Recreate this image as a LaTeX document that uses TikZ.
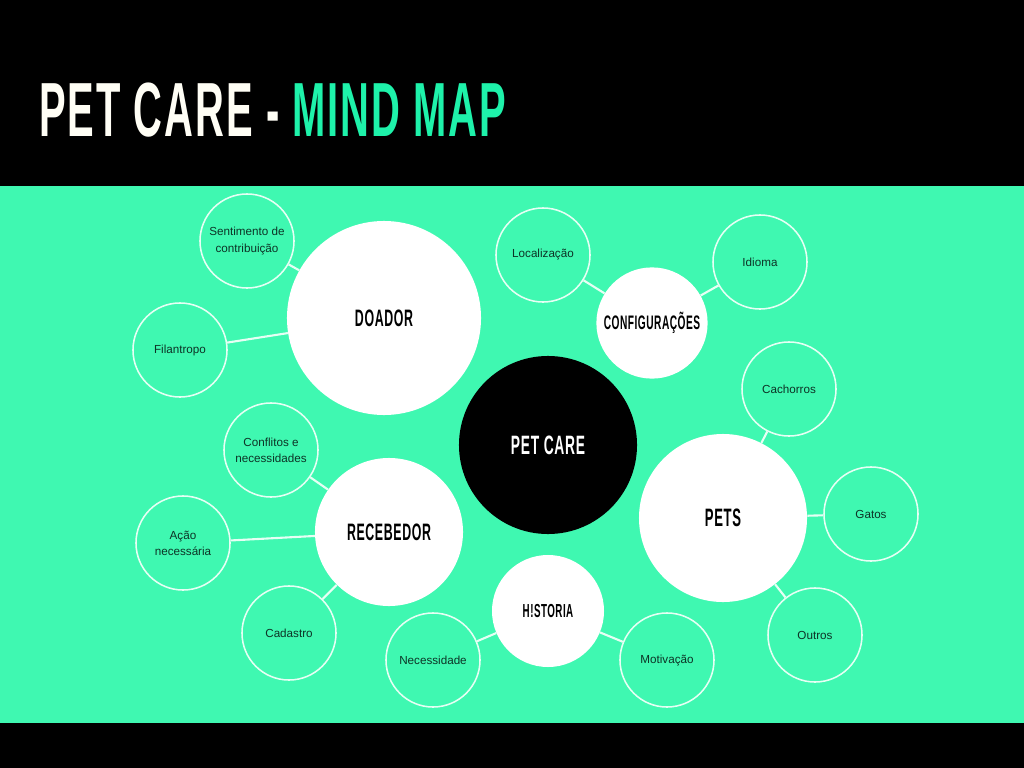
\documentclass[tikz,border=0pt]{standalone}
\usepackage{fontspec}
\usepackage{graphicx}
\setmainfont{Liberation Sans}
\newfontfamily\bebasfont{Liberation Sans}[LetterSpace=5]
\definecolor{mapgreen}{HTML}{3FF8B1}
\definecolor{titlegreen}{HTML}{1EF2AA}
\definecolor{ringwhite}{HTML}{E6FFF4}
\definecolor{leaftext}{HTML}{0D3326}
\newcommand\bebas[1]{\scalebox{0.52}[1]{#1}}
\newcommand\doadord{4.85cm}
\newcommand\leafd{2.35cm}

\begin{document}
\begin{tikzpicture}[x=0.025cm,y=-0.025cm,
		bigbub/.style={circle,fill=white,inner sep=0,text=black},
		leaf/.style={circle,draw=ringwhite,line width=1.1pt,inner sep=0,minimum size=\leafd,align=center,text=leaftext,font=\fontsize{8.3}{11.4}\selectfont},
		link/.style={draw=ringwhite,line width=1.5pt}]
		\useasboundingbox (0,0) rectangle (1024,768);
		\fill[black] (0,0) rectangle (1024,768);
		\fill[mapgreen] (0,186) rectangle (1024,723);
		\node(title)[anchor=base west,inner sep=0,text=white!96!yellow,font=\bebasfont\bfseries\fontsize{54.6}{54.6}\selectfont] at (39,137) {\bebas{PET CARE - \textcolor{titlegreen}{MIND MAP}}};
		% main bubbles
		\node(petcare)[bigbub,fill=black,text=white,minimum size=4.45cm,font=\bebasfont\bfseries\fontsize{18.9}{18.9}\selectfont] at (548,445) {\bebas{PET CARE}};
		\node(doador)[bigbub,minimum size=\doadord,font=\bebasfont\bfseries\fontsize{16.9}{16.9}\selectfont] at (384,318) {\bebas{DOADOR}};
		\node(config)[bigbub,minimum size=2.78cm,font=\bebasfont\bfseries\fontsize{13.9}{13.9}\selectfont] at (652,323) {\bebas{CONFIGURAÇÕES}};
		\node(pets)[bigbub,minimum size=4.2cm,font=\bebasfont\bfseries\fontsize{17.9}{17.9}\selectfont] at (723,518) {\bebas{PETS}};
		\node(recebedor)[bigbub,minimum size=3.7cm,font=\bebasfont\bfseries\fontsize{16.9}{16.9}\selectfont] at (389,532) {\bebas{RECEBEDOR}};
		\node(historia)[bigbub,minimum size=2.8cm,font=\bebasfont\bfseries\fontsize{13.4}{13.4}\selectfont] at (548,611) {\bebas{H!STORIA}};
		% leaves
		\node(sentimento)[leaf] at (247,241) {Sentimento de\\contribuição};
		\node(filantropo)[leaf] at (180,350) {Filantropo};
		\node(localizacao)[leaf] at (543,255) {Localização};
		\node(idioma)[leaf] at (760,262) {Idioma};
		\node(cachorros)[leaf] at (789,389) {Cachorros};
		\node(gatos)[leaf] at (871,514) {Gatos};
		\node(outros)[leaf] at (815,635) {Outros};
		\node(conflitos)[leaf] at (271,450) {Conflitos e\\necessidades};
		\node(acao)[leaf] at (183,543) {Ação\\necessária};
		\node(cadastro)[leaf] at (289,633) {Cadastro};
		\node(necessidade)[leaf] at (433,660) {Necessidade};
		\node(motivacao)[leaf] at (667,660) {Motivação};
		\path [link] (sentimento) edge (doador);
		\path [link] (filantropo) edge (doador);
		\path [link] (localizacao) edge (config);
		\path [link] (idioma) edge (config);
		\path [link] (cachorros) edge (pets);
		\path [link] (gatos) edge (pets);
		\path [link] (outros) edge (pets);
		\path [link] (conflitos) edge (recebedor);
		\path [link] (acao) edge (recebedor);
		\path [link] (cadastro) edge (recebedor);
		\path [link] (necessidade) edge (historia);
		\path [link] (motivacao) edge (historia);
	\end{tikzpicture}
\end{document}
